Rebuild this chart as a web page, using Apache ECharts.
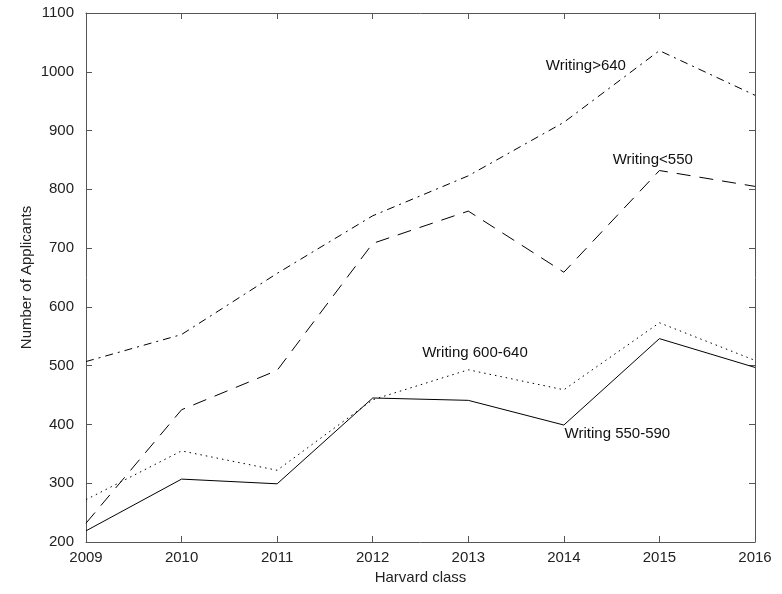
<!DOCTYPE html>
<html>
<head>
<meta charset="utf-8">
<script src="https://cdn.jsdelivr.net/npm/echarts@6/dist/echarts.min.js"></script>
<style>html,body{margin:0;padding:0;background:#fff;}#c{width:782px;height:594px;}</style>
</head>
<body>
<div id="c"></div>
<script>
var years = [2009, 2010, 2011, 2012, 2013, 2014, 2015, 2016];
var writingOver640 = [507, 553, 657, 755, 823, 914, 1036, 960];
var writingUnder550 = [232, 425, 492, 708, 763, 659, 832, 805];
var writing600_640 = [272, 355, 322, 442, 493, 459, 573, 509];
var writing550_590 = [219, 307, 299, 445, 441, 399, 546, 497];
var yTicks = [200, 300, 400, 500, 600, 700, 800, 900, 1000, 1100];

function pairs(vals){ return years.map(function(y,i){ return [y, vals[i]]; }); }

var FONT = 'Liberation Sans, Arial, Helvetica, sans-serif';
var txt = '#222';
var axisCol = '#555';
function plain(v){ return String(v); }

function labelPoint(name, coord){
  return {
    symbol: 'circle', symbolSize: 0, silent: true,
    label: {show: true, position: 'inside', formatter: name, color: '#111', fontSize: 15, fontFamily: FONT},
    data: [{coord: coord}]
  };
}

var chart = echarts.init(document.getElementById('c'), null, {renderer: 'canvas'});
chart.setOption({
  animation: false,
  backgroundColor: '#fff',
  grid: {left: 86, top: 13, right: 27, bottom: 52},
  xAxis: [{
    type: 'value', min: years[0], max: years[years.length-1], interval: 1,
    name: 'Harvard class', nameLocation: 'middle', nameGap: 28, nameMoveOverlap: false,
    nameTextStyle: {color: txt, fontSize: 15, fontFamily: FONT},
    axisLine: {show: true, lineStyle: {color: axisCol, width: 1}},
    axisTick: {show: true, inside: true, length: 6, lineStyle: {color: axisCol}},
    axisLabel: {color: txt, fontSize: 15, fontFamily: FONT, margin: 8, formatter: plain},
    splitLine: {show: false}
  }, {
    type: 'value', position: 'top', min: years[0], max: years[years.length-1], interval: 1,
    axisLine: {show: true, lineStyle: {color: axisCol, width: 1}},
    axisTick: {show: true, inside: true, length: 6, lineStyle: {color: axisCol}},
    axisLabel: {show: false}, splitLine: {show: false}
  }],
  yAxis: [{
    type: 'value', min: yTicks[0], max: yTicks[yTicks.length-1], interval: 100,
    name: 'Number of Applicants', nameLocation: 'middle', nameGap: 52, nameRotate: 90, nameMoveOverlap: false,
    nameTextStyle: {color: txt, fontSize: 15, fontFamily: FONT},
    axisLine: {show: true, lineStyle: {color: axisCol, width: 1}},
    axisTick: {show: true, inside: true, length: 6, lineStyle: {color: axisCol}},
    axisLabel: {color: txt, fontSize: 15, fontFamily: FONT, margin: 12, formatter: plain},
    splitLine: {show: false}
  }, {
    type: 'value', position: 'right', min: yTicks[0], max: yTicks[yTicks.length-1], interval: 100,
    axisLine: {show: true, lineStyle: {color: axisCol, width: 1}},
    axisTick: {show: true, inside: true, length: 6, lineStyle: {color: axisCol}},
    axisLabel: {show: false}, splitLine: {show: false}
  }],
  series: [{
    name: 'Writing>640', type: 'line', data: pairs(writingOver640), showSymbol: false,
    lineStyle: {color: '#000', width: 1, type: [8, 5, 2, 5]},
    markPoint: labelPoint('Writing>640', [2014.23, 1010])
  }, {
    name: 'Writing<550', type: 'line', data: pairs(writingUnder550), showSymbol: false,
    lineStyle: {color: '#000', width: 1, type: [14, 9]},
    markPoint: labelPoint('Writing<550', [2014.93, 850])
  }, {
    name: 'Writing 600-640', type: 'line', data: pairs(writing600_640), showSymbol: false,
    lineStyle: {color: '#000', width: 1, type: [1.5, 4]},
    markPoint: labelPoint('Writing 600-640', [2013.07, 521])
  }, {
    name: 'Writing 550-590', type: 'line', data: pairs(writing550_590), showSymbol: false,
    lineStyle: {color: '#000', width: 1, type: 'solid'},
    markPoint: labelPoint('Writing 550-590', [2014.56, 384])
  }]
});
</script>
</body>
</html>
